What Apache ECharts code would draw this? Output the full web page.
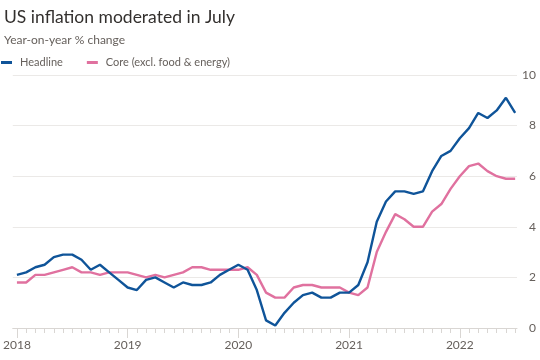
<!DOCTYPE html>
<html><head><meta charset="utf-8">
<script src="https://cdn.jsdelivr.net/npm/echarts@6/dist/echarts.min.js"></script>
<style>html,body{margin:0;padding:0;background:#fff}#c{width:540px;height:360px}</style>
</head><body><div id="c"></div>
<script>
const titleText = 'US inflation moderated in July';
const subtitleText = 'Year-on-year % change';
const seriesNames = ['Headline', 'Core (excl. food & energy)'];
const startYear = 2018;
// monthly values Jan 2018 .. Jul 2022
const headline = [2.1,2.2,2.4,2.5,2.8,2.9,2.9,2.7,2.3,2.5,2.2,1.9,
  1.6,1.5,1.9,2.0,1.8,1.6,1.8,1.7,1.7,1.8,2.1,2.3,
  2.5,2.3,1.5,0.3,0.1,0.6,1.0,1.3,1.4,1.2,1.2,1.4,
  1.4,1.7,2.6,4.2,5.0,5.4,5.4,5.3,5.4,6.2,6.8,7.0,
  7.5,7.9,8.5,8.3,8.6,9.1,8.5];
const core = [1.8,1.8,2.1,2.1,2.2,2.3,2.4,2.2,2.2,2.1,2.2,2.2,
  2.2,2.1,2.0,2.1,2.0,2.1,2.2,2.4,2.4,2.3,2.3,2.3,
  2.3,2.4,2.1,1.4,1.2,1.2,1.6,1.7,1.7,1.6,1.6,1.6,
  1.4,1.3,1.6,3.0,3.8,4.5,4.3,4.0,4.0,4.6,4.9,5.5,
  6.0,6.4,6.5,6.2,6.0,5.9,5.9];
const yTicks = [0,2,4,6,8,10];
const yearTicks = [0,12,24,36,48];

const monthTicks = headline.map((_, i) => i);
const toPairs = arr => arr.map((v, i) => [i, v]);
const txt = '#66605c';
const ff = 'Lato';
const chart = echarts.init(document.getElementById('c'));
const xBase = {
  type: 'value', min: -0.45, max: 54.2, splitLine: {show: false}
};
chart.setOption({
  animation: false,
  textStyle: {fontFamily: ff},
  title: [
    {text: titleText, left: -1, top: 3, textStyle: {fontSize: 17.5, fontWeight: 'normal', color: '#33302e', fontFamily: ff}},
    {text: subtitleText, left: -1, top: 29, textStyle: {fontSize: 12, fontWeight: 'normal', color: txt, fontFamily: ff}}
  ],
  legend: {
    left: -4, top: 52, itemWidth: 11, itemHeight: 3, itemGap: 24, icon: 'rect',
    textStyle: {fontSize: 11, color: txt, fontFamily: ff, padding: [0, 0, 0, 3]},
    data: seriesNames
  },
  grid: {left: 12, right: 23, top: 75, bottom: 32},
  xAxis: [
    Object.assign({}, xBase, {
      axisLine: {show: true, lineStyle: {color: '#d9d6d3', width: 1}},
      axisTick: {show: true, length: 5, customValues: monthTicks, lineStyle: {color: '#d9d6d3'}},
      axisLabel: {show: true, customValues: yearTicks, margin: 11, fontSize: 12, color: txt,
        formatter: v => String(startYear + Math.round(v / 12))}
    }),
    Object.assign({}, xBase, {
      position: 'bottom',
      axisLine: {show: false},
      axisTick: {show: true, length: 10, customValues: yearTicks, lineStyle: {color: '#d9d6d3'}},
      axisLabel: {show: false}
    })
  ],
  yAxis: {
    type: 'value', position: 'right', min: 0, max: 10, interval: 2,
    axisLine: {show: false}, axisTick: {show: false},
    axisLabel: {align: 'right', margin: 19, fontSize: 12, color: txt},
    splitLine: {lineStyle: {color: '#ebe9e7', width: 1}}
  },
  series: [
    {name: seriesNames[0], type: 'line', data: toPairs(headline), symbol: 'none', z: 3,
      lineStyle: {color: '#0f5499', width: 2.4}, itemStyle: {color: '#0f5499'}},
    {name: seriesNames[1], type: 'line', data: toPairs(core), symbol: 'none', z: 2,
      lineStyle: {color: '#e0719f', width: 2.4}, itemStyle: {color: '#e0719f'}}
  ]
});
</script></body></html>
